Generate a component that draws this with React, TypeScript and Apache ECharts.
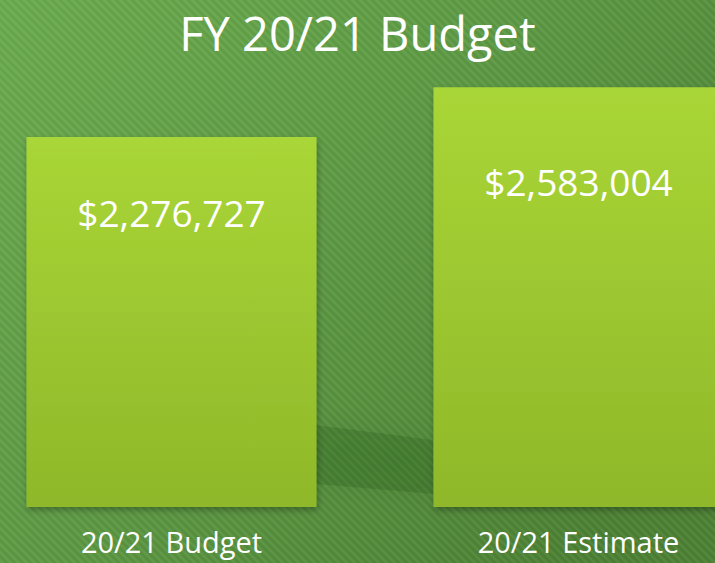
import React, { useEffect, useRef } from "react";
import * as echarts from "echarts";

const titleText = "FY 20/21 Budget";
const categories = ["20/21 Budget", "20/21 Estimate"];
const values = [2276727, 2583004];
const labelOffsets = [75, 94];

function makeStripeTile(): HTMLCanvasElement {
  const c = document.createElement("canvas");
  c.width = 8;
  c.height = 8;
  const ctx = c.getContext("2d");
  if (ctx) {
    ctx.strokeStyle = "rgba(255,255,255,0.05)";
    ctx.lineWidth = 2;
    const segs = [
      [-1, -1, 9, 9],
      [7, -1, 9, 1],
      [-1, 7, 1, 9],
    ];
    for (const s of segs) {
      ctx.beginPath();
      ctx.moveTo(s[0], s[1]);
      ctx.lineTo(s[2], s[3]);
      ctx.stroke();
    }
    ctx.strokeStyle = "rgba(0,0,0,0.04)";
    const segs2 = [
      [3, -1, 9, 5],
      [-1, 3, 5, 9],
    ];
    for (const s of segs2) {
      ctx.beginPath();
      ctx.moveTo(s[0], s[1]);
      ctx.lineTo(s[2], s[3]);
      ctx.stroke();
    }
  }
  return c;
}

export default function App() {
  const ref = useRef<HTMLDivElement>(null);
  useEffect(() => {
    if (!ref.current) return;
    const chart = echarts.init(ref.current, undefined, { renderer: "svg" });
    const tile = makeStripeTile();
    const fmt = (v: number) => "$" + v.toLocaleString("en-US");
    chart.setOption({
      animation: false,
      backgroundColor: {
        type: "linear",
        x: 0,
        y: 0,
        x2: 1,
        y2: 0.7,
        colorStops: [
          { offset: 0, color: "#6bab4e" },
          { offset: 0.5, color: "#5d9944" },
          { offset: 1, color: "#4c8134" },
        ],
      },
      graphic: [
        {
          type: "rect",
          z: -10,
          silent: true,
          shape: { x: 0, y: 0, width: 715, height: 563 },
          style: { fill: { image: tile, repeat: "repeat", imageWidth: 8, imageHeight: 8 } as any },
        },
        {
          type: "polygon",
          z: -5,
          silent: true,
          shape: {
            points: [
              [316, 425],
              [433, 440],
              [433, 494],
              [316, 484],
            ],
          },
          style: {
            fill: "rgba(25,55,15,0.14)",
            shadowBlur: 24,
            shadowColor: "rgba(25,55,15,0.45)",
          },
        },
      ],
      title: {
        text: titleText,
        left: "center",
        top: 4,
        textStyle: {
          color: "#ffffff",
          fontFamily: "Open Sans",
          fontWeight: "normal",
          fontSize: 47,
        },
      },
      grid: { left: 171.5, right: 136.5, top: 19.5, bottom: 56, containLabel: false },
      xAxis: {
        type: "category",
        data: categories,
        boundaryGap: false,
        axisLine: { show: false },
        axisTick: { show: false },
        axisLabel: {
          color: "#ffffff",
          fontFamily: "Open Sans",
          fontSize: 29,
          margin: 20,
        },
      },
      yAxis: {
        type: "value",
        min: 0,
        max: 3000000,
        show: false,
        splitLine: { show: false },
      },
      series: [
        {
          type: "bar",
          barWidth: 290,
          clip: false,
          data: values.map((v, i) => ({
            value: v,
            label: {
              show: true,
              position: ["50%", labelOffsets[i]],
              align: "center",
              verticalAlign: "middle",
              formatter: () => fmt(v),
              color: "#ffffff",
              fontFamily: "Open Sans",
              fontSize: 37,
              fontWeight: 500,
            },
          })),
          itemStyle: {
            color: {
              type: "linear",
              x: 0,
              y: 0,
              x2: 0,
              y2: 1,
              colorStops: [
                { offset: 0, color: "#a9d637" },
                { offset: 1, color: "#8fb829" },
              ],
            },
            shadowBlur: 6,
            shadowOffsetY: 3,
            shadowOffsetX: 1,
            shadowColor: "rgba(0,0,0,0.3)",
          },
        },
      ],
    });
    return () => chart.dispose();
  }, []);
  return (
    <div
      ref={ref}
      style={{ position: "fixed", left: 0, top: 0, width: 715, height: 563 }}
    />
  );
}
